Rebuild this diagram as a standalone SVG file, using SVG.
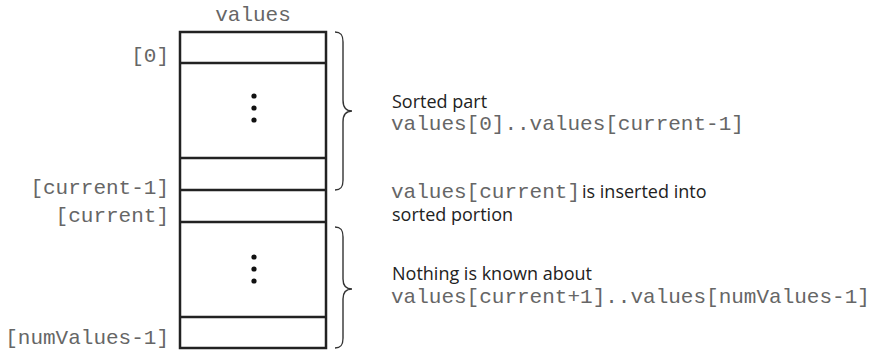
<svg xmlns="http://www.w3.org/2000/svg" width="880" height="350" viewBox="0 0 880 350">
<style>
.mono{font-family:"Liberation Mono","Courier New",monospace;font-size:21px;fill:#666;}
.sans{font-family:"Open Sans","Liberation Sans",sans-serif;font-size:18px;fill:#222;}
.cell{fill:none;stroke:#222;stroke-width:2.5;}
.brace{fill:none;stroke:#333;stroke-width:1.4;}
.dot{fill:#111;}
</style>
<rect width="880" height="350" fill="#fff"/>
<g id="array">
<text class="mono" x="253" y="21" text-anchor="middle">values</text>
<rect class="cell" x="180" y="32" width="146" height="316"/>
<line class="cell" x1="180" y1="63" x2="326" y2="63"/>
<line class="cell" x1="180" y1="158" x2="326" y2="158"/>
<line class="cell" x1="180" y1="190" x2="326" y2="190"/>
<line class="cell" x1="180" y1="222" x2="326" y2="222"/>
<line class="cell" x1="180" y1="317" x2="326" y2="317"/>
<circle class="dot" cx="254" cy="96" r="2.6"/>
<circle class="dot" cx="254" cy="108" r="2.6"/>
<circle class="dot" cx="254" cy="120" r="2.6"/>
<circle class="dot" cx="254" cy="257" r="2.6"/>
<circle class="dot" cx="254" cy="269" r="2.6"/>
<circle class="dot" cx="254" cy="281" r="2.6"/>
</g>
<g id="indices">
<text class="mono" x="169" y="62" text-anchor="end">[0]</text>
<text class="mono" x="169" y="194" text-anchor="end">[current-1]</text>
<text class="mono" x="169" y="222" text-anchor="end">[current]</text>
<text class="mono" x="169" y="344" text-anchor="end">[numValues-1]</text>
</g>
<g id="connectors">
<path class="brace" d="M335,32 C341,32 343,35 343,42 L343,100 C343,108 346,111 352,111 C346,111 343,114 343,122 L343,180 C343,187 341,190 335,190"/>
<path class="brace" d="M335,227 C341,227 343,230 343,237 L343,279 C343,286 346,289 352,289 C346,289 343,292 343,299 L343,338 C343,345 341,348 335,348"/>
</g>
<g id="sorted-label">
<text class="sans" x="392" y="108">Sorted part</text>
<text class="mono" x="391" y="130">values[0]..values[current-1]</text>
</g>
<g id="current-label">
<text x="391" y="198"><tspan class="mono">values[current]</tspan><tspan class="sans" dx="2">is inserted into</tspan></text>
<text class="sans" x="392" y="221">sorted portion</text>
</g>
<g id="unknown-label">
<text class="sans" x="392" y="280">Nothing is known about</text>
<text class="mono" x="391" y="303">values[current+1]..values[numValues-1]</text>
</g>
</svg>
